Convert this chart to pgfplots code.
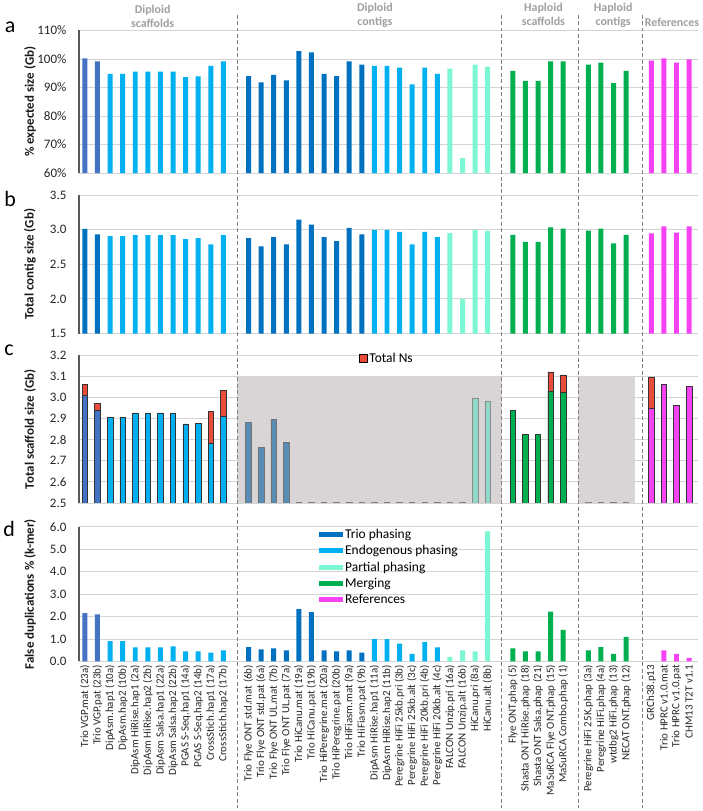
\documentclass[border=0pt]{standalone}
\usepackage{pgfplots}
\pgfplotsset{compat=1.18}
\usepackage{fontspec}
\setmainfont{Carlito}
\definecolor{vgp}{HTML}{4472C4}
\definecolor{trio}{HTML}{0070C0}
\definecolor{endo}{HTML}{00B0F0}
\definecolor{part}{HTML}{7CF7D4}
\definecolor{merg}{HTML}{00B050}
\definecolor{refs}{HTML}{F542F5}
\definecolor{nsred}{HTML}{EA4C3C}
\definecolor{greytrio}{HTML}{5A8DB5}
\definecolor{greypart}{HTML}{92D8C9}
\definecolor{bggrey}{HTML}{D9D5D6}
\definecolor{gridc}{HTML}{D4D4D4}
\definecolor{hdrgrey}{HTML}{A0A0A0}

\pgfplotsset{
  panel/.style={
    scale only axis, width=621pt, xmin=-0.48, xmax=48.7,
    ybar, bar width=5pt,
    every axis plot/.append style={bar shift=0pt, draw=none},
    axis x line*=bottom, axis y line*=left,
    x axis line style={-, draw=none},
    y axis line style={-, draw=black!65, line width=1.6pt},
    ymajorgrids, grid style={gridc, line width=0.9pt},
    major tick length=0pt, xtick=\empty,
    /pgf/number format/assume math mode=true,
    yticklabel style={font=\fontsize{13}{15}\selectfont, text=black!85, xshift=-9pt},
    every axis y label/.style={at={(axis description cs:-0.0789,0.5)}, rotate=90, anchor=center, font=\fontsize{13}{15}\selectfont\bfseries, text=black!90},
  },
  bb/.style={bar shift=0pt, draw=none, fill=#1},
  cb/.style={bar shift=0pt, fill=#1, draw=black!80, line width=0.6pt, bar width=5.5pt},
}
\tikzset{hdr/.style={font=\fontsize{12}{14}\selectfont\bfseries, text=hdrgrey, align=center},
  plab/.style={font=\fontsize{22}{22}\selectfont, text=black}}

\begin{document}
\begin{tikzpicture}
\path (0pt,0pt) rectangle (700pt,-811pt);
\coordinate (ltop) at (0pt,-12pt);
\coordinate (lbot) at (0pt,-808pt);

\node[hdr] at (151pt,-14pt) {Diploid\\scaffolds};
\node[hdr] at (374pt,-13pt) {Diploid\\contigs};
\node[hdr] at (543pt,-12pt) {Haploid\\scaffolds};
\node[hdr] at (613pt,-13pt) {Haploid\\contigs};
\node[hdr] at (672pt,-20pt) {References};

\node[plab] at (8pt,-25pt) {a};
\node[plab] at (8pt,-197pt) {b};
\node[plab] at (7pt,-349pt) {c};
\node[plab] at (7pt,-528pt) {d};

% ---------------- panel a
\begin{axis}[panel, at={(77pt,-28pt)}, anchor=north west, height=143pt,
  ymin=60, ymax=110, ytick={60,70,80,90,100,110},
  yticklabel={\pgfmathprintnumber{\tick}\%},
  ylabel={\% expected size (Gb)}]
\addplot[bb=vgp] coordinates {(0,100.2)(1,99.2)};
\addplot[bb=endo] coordinates {(2,94.8)(3,94.8)(4,95.6)(5,95.6)(6,95.6)(7,95.6)(8,93.6)(9,93.9)(10,97.6)(11,99.2)
  (23,97.6)(24,97.6)(25,97.0)(26,91.1)(27,97.0)(28,94.8)};
\addplot[bb=trio] coordinates {(13,94.0)(14,91.8)(15,94.4)(16,92.5)(17,102.8)(18,102.3)(19,94.8)(20,94.0)(21,99.2)(22,98.0)};
\addplot[bb=part] coordinates {(29,96.6)(30,65.2)(31,98.0)(32,97.3)};
\addplot[bb=merg] coordinates {(34,95.8)(35,92.3)(36,92.3)(37,99.2)(38,99.2)(40,98.0)(41,98.7)(42,91.5)(43,95.8)};
\addplot[bb=refs] coordinates {(45,99.4)(46,100.2)(47,98.7)(48,99.9)};
\coordinate (s1) at (axis cs:12.1,60);
\coordinate (s2) at (axis cs:33.1,60);
\coordinate (s3) at (axis cs:39.2,60);
\coordinate (s4) at (axis cs:44.3,60);
\end{axis}

% ---------------- panel b
\begin{axis}[panel, at={(77pt,-193pt)}, anchor=north west, height=139pt,
  ymin=1.5, ymax=3.5, ytick={1.5,2,2.5,3,3.5},
  yticklabel style={/pgf/number format/.cd, fixed, fixed zerofill, precision=1},
  ylabel={Total contig size (Gb)}]
\addplot[bb=trio] coordinates {(0,3.01)(1,2.933)(13,2.876)(14,2.757)(15,2.89)(16,2.786)(17,3.143)(18,3.071)(19,2.89)(20,2.833)(21,3.024)(22,2.933)};
\addplot[bb=endo] coordinates {(2,2.905)(3,2.905)(4,2.92)(5,2.92)(6,2.92)(7,2.92)(8,2.862)(9,2.876)(10,2.786)(11,2.92)
  (23,2.995)(24,2.995)(25,2.967)(26,2.786)(27,2.967)(28,2.89)};
\addplot[bb=part] coordinates {(29,2.948)(30,1.995)(31,2.995)(32,2.98)};
\addplot[bb=merg] coordinates {(34,2.925)(35,2.822)(36,2.822)(37,3.033)(38,3.014)(40,2.986)(41,3.014)(42,2.80)(43,2.925)};
\addplot[bb=refs] coordinates {(45,2.944)(46,3.047)(47,2.958)(48,3.047)};
\end{axis}

% ---------------- panel c
\begin{axis}[panel, set layers, at={(77pt,-354pt)}, anchor=north west, height=148pt,
  ymin=2.5, ymax=3.2, ytick={2.5,2.6,2.7,2.8,2.9,3.0,3.1,3.2},
  yticklabel style={/pgf/number format/.cd, fixed, fixed zerofill, precision=1},
  ylabel={Total scaffold size (Gb)},
  legend style={draw=none, fill=none, at={(rel axis cs:0.452,0.98)}, anchor=west, inner sep=0pt,
    font=\fontsize{13.5}{15}\selectfont}]
\begin{pgfonlayer}{axis background}
\fill[bggrey] (axis cs:12.1,2.5) rectangle (axis cs:33.1,3.1);
\fill[bggrey] (axis cs:39.2,2.5) rectangle (axis cs:43.7,3.1);
\end{pgfonlayer}
\addplot[cb=nsred, forget plot] coordinates {(0,3.061)(1,2.971)(10,2.935)(11,3.034)(37,3.122)(38,3.108)(45,3.098)};
\addplot[cb=vgp, forget plot] coordinates {(0,3.009)(1,2.939)};
\addplot[cb=endo, forget plot] coordinates {(2,2.906)(3,2.906)(4,2.927)(5,2.927)(6,2.927)(7,2.927)(8,2.875)(9,2.879)(10,2.783)(11,2.911)};
\addplot[cb=greytrio, draw=black!55, forget plot] coordinates {(13,2.883)(14,2.765)(15,2.898)(16,2.788)};
\addplot[cb=greypart, draw=black!45, forget plot] coordinates {(31,2.997)(32,2.983)};
\addplot[cb=merg, forget plot] coordinates {(34,2.939)(35,2.827)(36,2.827)(37,3.032)(38,3.024)};
\addplot[cb=refs, forget plot] coordinates {(45,2.950)(46,3.061)(47,2.964)(48,3.054)};
\addplot[bar shift=0pt, fill=none, draw=black!50, line width=0.9pt, bar width=5.5pt, forget plot] coordinates {(17,2.503)(18,2.503)(19,2.503)(20,2.503)(21,2.503)(22,2.503)(23,2.503)(24,2.503)(25,2.503)(26,2.503)(27,2.503)(28,2.503)(29,2.503)(30,2.503)(40,2.503)(41,2.503)(42,2.503)(43,2.503)};
\addlegendimage{legend image code/.code={\draw[fill=nsred, draw=black, line width=0.6pt] (0pt,-4pt) rectangle (8pt,4pt);}}
\addlegendentry{Total Ns}
\end{axis}

% ---------------- panel d
\begin{axis}[panel, at={(77pt,-526pt)}, anchor=north west, height=135pt,
  ymin=0, ymax=6, ytick={0,1,2,3,4,5,6},
  yticklabel style={/pgf/number format/.cd, fixed, fixed zerofill, precision=1},
  ylabel={False duplications \% (k-mer)},
  xtick={0,1,2,3,4,5,6,7,8,9,10,11,13,14,15,16,17,18,19,20,21,22,23,24,25,26,27,28,29,30,31,32,34,35,36,37,38,40,41,42,43,45,46,47,48},
  xticklabels={Trio VGP.mat (23a),Trio VGP.pat (23b),DipAsm.hap1 (10a),DipAsm.hap2 (10b),DipAsm HiRise.hap1 (2a),DipAsm HiRise.hap2 (2b),DipAsm Salsa.hap1 (22a),DipAsm Salsa.hap2 (22b),PGAS S-Seq.hap1 (14a),PGAS S-Seq.hap2 (14b),CrossStich.hap1 (17a),CrossStich.hap2 (17b),
    Trio Flye ONT std.mat (6b),Trio Flye ONT std.pat (6a),Trio Flye ONT UL.mat (7b),Trio Flye ONT UL.pat (7a),Trio HiCanu.mat (19a),Trio HiCanu.pat (19b),Trio HiPeregrine.mat (20a),Trio HiPeregrine.pat (20b),Trio HiFiasm.mat (9a),Trio HiFiasm.pat (9b),DipAsm HiRise.hap1 (11a),DipAsm HiRise.hap2 (11b),Peregrine HiFi 25kb.pri (3b),Peregrine HiFi 25kb.alt (3c),Peregrine HiFi 20kb.pri (4b),Peregrine HiFi 20kb.alt (4c),FALCON Unzip.pri (16a),FALCON Unzip.alt (16b),HiCanu.pri (8a),HiCanu.alt (8b),
    Flye ONT.phap (5),Shasta ONT HiRise.phap (18),Shasta ONT Salsa.phap (21),MaSuRCA Flye ONT.phap (15),MaSuRCA Combo.phap (1),
    Peregrine HiFi 25K.phap (3a),Peregrine HiFi.phap (4a),wtdbg2 HiFi.phap (13),NECAT ONT.phap (12),
    GRCh38.p13,Trio HPRC v1.0.mat,Trio HPRC v1.0.pat,CHM13 T2T v1.1},
  xticklabel style={rotate=90, anchor=east, font=\fontsize{11}{13}\selectfont, text=black!85},
  legend style={draw=none, fill=none, at={(rel axis cs:0.388,1.0)}, anchor=north west, inner sep=0pt,
    font=\fontsize{13.5}{15}\selectfont, row sep=1.5pt}, legend cell align=left]
\addplot[bb=vgp, forget plot] coordinates {(0,2.16)(1,2.10)};
\addplot[bb=endo, forget plot] coordinates {(2,0.91)(3,0.91)(4,0.63)(5,0.63)(6,0.63)(7,0.67)(8,0.45)(9,0.45)(10,0.39)(11,0.49)
  (23,1.0)(24,1.0)(25,0.80)(26,0.34)(27,0.86)(28,0.63)};
\addplot[bb=trio, forget plot] coordinates {(13,0.64)(14,0.54)(15,0.58)(16,0.49)(17,2.34)(18,2.20)(19,0.49)(20,0.45)(21,0.49)(22,0.39)};
\addplot[bb=part, forget plot] coordinates {(29,0.21)(30,0.49)(31,0.45)(32,5.8)};
\addplot[bb=merg, forget plot] coordinates {(34,0.58)(35,0.45)(36,0.45)(37,2.22)(38,1.41)(40,0.49)(41,0.64)(42,0.34)(43,1.10)};
\addplot[bb=refs, forget plot] coordinates {(45,0)(46,0.49)(47,0.34)(48,0.16)};
\addlegendimage{legend image code/.code={\fill[trio] (0pt,-2.5pt) rectangle (24pt,2.5pt);}}
\addlegendentry{Trio phasing}
\addlegendimage{legend image code/.code={\fill[endo] (0pt,-2.5pt) rectangle (24pt,2.5pt);}}
\addlegendentry{Endogenous phasing}
\addlegendimage{legend image code/.code={\fill[part] (0pt,-2.5pt) rectangle (24pt,2.5pt);}}
\addlegendentry{Partial phasing}
\addlegendimage{legend image code/.code={\fill[merg] (0pt,-2.5pt) rectangle (24pt,2.5pt);}}
\addlegendentry{Merging}
\addlegendimage{legend image code/.code={\fill[refs] (0pt,-2.5pt) rectangle (24pt,2.5pt);}}
\addlegendentry{References}
\end{axis}

\foreach \s in {s1,s2,s3,s4}{
  \draw[black!50, line width=1.1pt, dash pattern=on 4pt off 2.5pt] (\s |- ltop) -- (\s |- lbot);
}
\end{tikzpicture}
\end{document}
